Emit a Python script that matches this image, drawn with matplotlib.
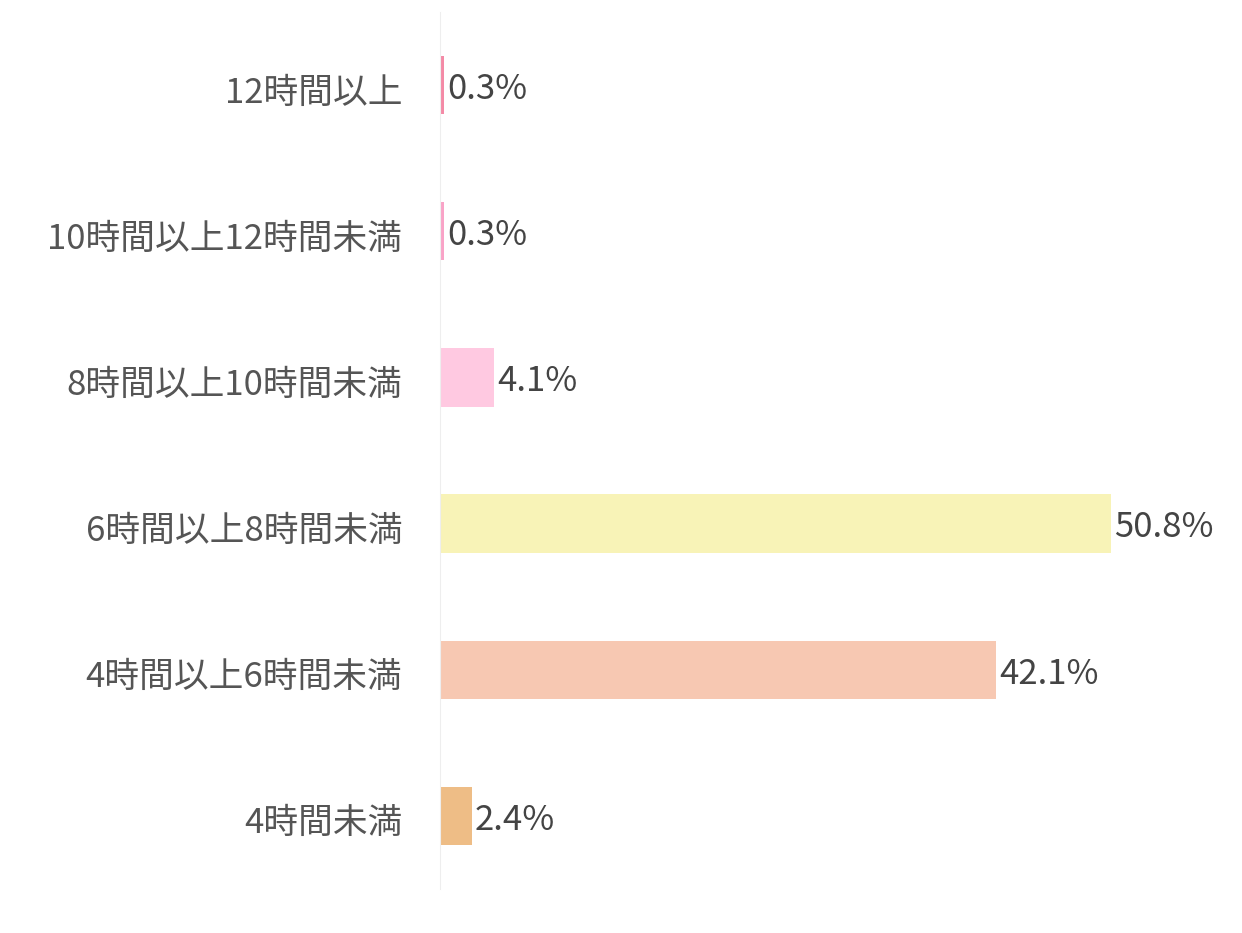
import numpy as np
import matplotlib.pyplot as plt
import matplotlib.transforms as mtransforms

plt.rcParams['font.family'] = ['Noto Sans CJK JP', 'DejaVu Sans']

categories = ['12時間以上', '10時間以上12時間未満', '8時間以上10時間未満',
              '6時間以上8時間未満', '4時間以上6時間未満', '4時間未満']
values = [0.3, 0.3, 4.1, 50.8, 42.1, 2.4]
colors = ['#f48aa6', '#f9a3c7', '#ffc9e1', '#f8f3b7', '#f7c8b2', '#eebd86']

fig = plt.figure(figsize=(12.42, 9.33), dpi=100)
ax = fig.add_axes([440 / 1242, 44 / 933, 792 / 1242, 877 / 933])

y = np.arange(len(categories))
ax.barh(y, values, height=0.4, color=colors)
ax.set_ylim(len(categories) - 0.5, -0.5)
ax.set_xlim(0, 60)

for yi, v in zip(y, values):
    ax.text(v + 0.25, yi + 0.03, f'{v}%', va='center', ha='left',
            fontsize=25, color='#444444')

ax.set_yticks(y)
ax.set_yticklabels(categories, fontsize=25, color='#555555')
ax.tick_params(axis='y', length=0, pad=27)
# nudge category labels down a little
shift = mtransforms.ScaledTranslation(0, -4 / 100, fig.dpi_scale_trans)
for lab in ax.get_yticklabels():
    lab.set_transform(lab.get_transform() + shift)
ax.set_xticks([])
for s in ['top', 'right', 'bottom']:
    ax.spines[s].set_visible(False)
ax.spines['left'].set_color('#eeeeee')

fig.savefig('out.png', dpi=100)
